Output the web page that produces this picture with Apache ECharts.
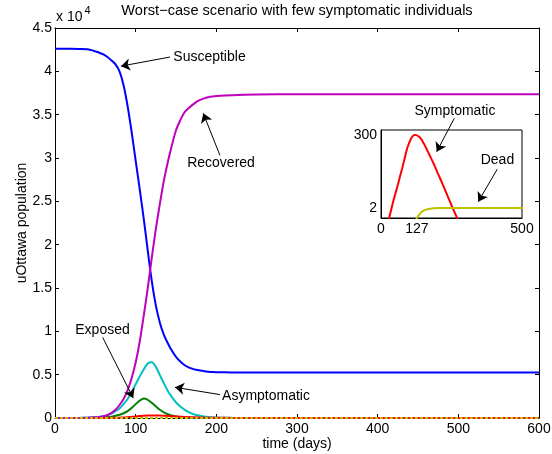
<!DOCTYPE html>
<html><head><meta charset="utf-8">
<script src="https://cdn.jsdelivr.net/npm/echarts@6/dist/echarts.min.js"></script>
<style>html,body{margin:0;padding:0;background:#fff}#c{width:552px;height:454px}</style>
</head><body><div id="c"></div>
<script>
// time in days
const days = [0,10,20,30,40,45,50,55,60,65,70,75,80,85,90,95,100,105,110,115,120,125,130,135,140,145,150,155,160,165,170,175,180,185,190,195,200,220,250,300,400,500,600];
// populations (people)
const susceptible = [42600,42600,42600,42590,42560,42450,42300,42150,41950,41650,41250,40800,40000,38400,36000,33000,29700,26400,23000,19300,15800,13000,11000,9600,8600,7750,7050,6550,6150,5880,5700,5560,5470,5400,5350,5310,5290,5260,5250,5250,5250,5250,5250];
const recovered = [0,0,5,10,30,50,80,130,200,350,600,950,1500,2200,3200,4600,6400,8800,11800,15000,18500,21800,24700,27400,29600,31500,33200,34300,35200,35700,36100,36450,36700,36880,37000,37090,37150,37250,37320,37350,37350,37350,37350];
const asymptomatic = [0,0,5,10,30,50,80,130,200,330,500,780,1100,1600,2200,3000,3900,4800,5600,6300,6420,5900,4950,4000,3100,2400,1800,1350,1000,720,500,350,250,170,120,85,60,15,2,0,0,0,0];
const exposed = [0,0,3,6,12,20,30,45,70,105,160,250,380,550,800,1150,1600,2000,2250,2100,1750,1350,950,650,430,280,180,120,80,55,35,25,15,11,8,6,4,1,0,0,0,0,0];
const symptomatic = [0.12,0.25,0.5,1.1,2.4,3.5,5,7,10,14.5,21,30,44,65,98,135,175,218,260,289,300,296,283,264,240,210,175,148,122,100,82,67,55,45,36,29,23,9.5,2.4,0.27,0.004,0.0001,0.000002];
const dead = [0.0001,0.0003,0.0007,0.0015,0.003,0.004,0.006,0.009,0.012,0.018,0.025,0.036,0.05,0.075,0.11,0.16,0.23,0.33,0.46,0.6,0.76,0.92,1.08,1.24,1.4,1.54,1.64,1.72,1.78,1.83,1.86,1.89,1.92,1.94,1.95,1.96,1.97,1.99,2,2,2,2,2];
// tick labels
const insetXTicks = [0,127,500];
const insetYTicks = [2,300];
// annotation texts and anchor points (data units of main axes)
const annoText = ['Susceptible','Recovered','Exposed','Asymptomatic','Symptomatic','Dead'];
const annoLabelAt = [[191.5,41650],[205.8,29420],[58.9,10150],[261.6,2570],[495.8,35420],[548.5,29770]];
const annoArrowFrom = [[142.6,41650],[204.5,30300],[59.1,9300],[204.5,2700],[495,34580],[548.2,28700]];
const annoArrowTo = [[81.8,40600],[183.8,35150],[97,2300],[148.8,3540],[473.2,30730],[524.7,24960]];

const FONT = 'Liberation Sans, Arial, Helvetica, sans-serif';
const pair = (xs, ys) => xs.map((x, i) => [x, ys[i]]);

function mainLine(name, vals, color, extra) {
  return Object.assign({
    name, type: 'line', xAxisIndex: 0, yAxisIndex: 0,
    data: pair(days, vals), showSymbol: false, smooth: 0.3,
    lineStyle: { color, width: 2 }, itemStyle: { color },
    silent: true, animation: false
  }, extra || {});
}
function insetLine(name, vals, color) {
  return {
    name, type: 'line', xAxisIndex: 2, yAxisIndex: 2,
    data: pair(days, vals), showSymbol: false, smooth: 0.3,
    lineStyle: { color, width: 2 }, itemStyle: { color },
    silent: true, animation: false, z: 5
  };
}

const axisBase = {
  type: 'value', splitLine: { show: false },
  axisLine: { show: true, onZero: false, lineStyle: { color: '#000', width: 1 } },
  axisTick: { show: true, inside: true, length: 4, lineStyle: { color: '#000' } },
  axisLabel: { color: '#000', fontSize: 14, fontFamily: FONT }
};
const mk = (o) => echarts.util.merge(echarts.util.clone(axisBase), o, true);

const chart = echarts.init(document.getElementById('c'), null, { renderer: 'canvas' });
chart.setOption({
  animation: false,
  backgroundColor: '#fff',
  textStyle: { fontFamily: FONT },
  graphic: [
    { type: 'text', x: 297, y: 3, style: { text: 'Worst\u2212case scenario with few symptomatic individuals', align: 'center', verticalAlign: 'top', fontSize: 14.6, fill: '#000', fontFamily: FONT } },
    { type: 'text', left: 56, top: 10, style: { text: 'x 10', fontSize: 14, fill: '#000', fontFamily: FONT } },
    { type: 'text', left: 84.5, top: 5, style: { text: '4', fontSize: 11, fill: '#000', fontFamily: FONT } }
  ],
  grid: [
    { left: 55, right: 13, top: 28, bottom: 36, outerBoundsMode: 'none', containLabel: false },
    { left: 381, top: 130, width: 141, height: 88, show: true, backgroundColor: '#fff', borderColor: '#000', borderWidth: 1, outerBoundsMode: 'none', containLabel: false }
  ],
  xAxis: [
    mk({ gridIndex: 0, min: 0, max: 600, interval: 100, position: 'bottom',
      name: 'time (days)', nameLocation: 'middle', nameGap: 19, nameMoveOverlap: false,
      nameTextStyle: { fontSize: 14, color: '#000', fontFamily: FONT },
      axisLabel: { margin: 4 } }),
    mk({ gridIndex: 0, min: 0, max: 600, interval: 100, position: 'top', axisLabel: { show: false } }),
    mk({ gridIndex: 1, min: 0, max: 500, axisTick: { show: false },
      axisLabel: { margin: 4, customValues: insetXTicks } })
  ],
  yAxis: [
    mk({ gridIndex: 0, min: 0, max: 45000, interval: 5000, position: 'left',
      name: 'uOttawa population', nameLocation: 'middle', nameGap: 26, nameRotate: 90, nameMoveOverlap: false,
      nameTextStyle: { fontSize: 14, color: '#000', fontFamily: FONT },
      axisLabel: { margin: 3, formatter: v => String(v / 10000) } }),
    mk({ gridIndex: 0, min: 0, max: 45000, interval: 5000, position: 'right', axisLabel: { show: false } }),
    mk({ gridIndex: 1, type: 'log', logBase: 10, min: 1, max: 420, axisTick: { show: false },
      axisLabel: { margin: 4, customValues: insetYTicks } })
  ],
  series: [
    mainLine('Susceptible', susceptible, '#0000FF', {
      z: 3,
      markLine: {
        silent: true, animation: false, symbol: ['none', 'arrow'], symbolSize: 9,
        lineStyle: { color: '#000', width: 1, type: 'solid' },
        label: { show: false }, emphasis: { disabled: true },
        data: annoArrowFrom.map((f, i) => [{ coord: f }, { coord: annoArrowTo[i] }])
      },
      markPoint: {
        silent: true, animation: false, symbol: 'circle', symbolSize: 1,
        itemStyle: { color: 'rgba(0,0,0,0)' },
        label: { show: true, position: 'inside', color: '#000', fontSize: 14, fontFamily: FONT, formatter: p => p.name },
        data: annoText.map((t, i) => ({ name: t, coord: annoLabelAt[i] }))
      }
    }),
    mainLine('Exposed', exposed, '#008000'),
    mainLine('Asymptomatic', asymptomatic, '#00BFBF'),
    mainLine('Symptomatic', symptomatic, '#FF0000'),
    mainLine('Recovered', recovered, '#BF00BF'),
    mainLine('Dead', dead, '#BFBF00', { lineStyle: { color: '#BFBF00', width: 2, type: [3, 2] } }),
    insetLine('Symptomatic (inset)', symptomatic, '#FF0000'),
    insetLine('Dead (inset)', dead, '#BFBF00')
  ]
});
</script></body></html>
